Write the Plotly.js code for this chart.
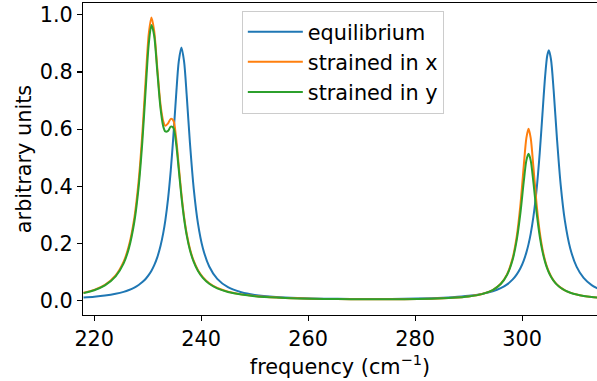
<!DOCTYPE html>
<html>
<head>
<meta charset="utf-8">
<script src="https://cdn.plot.ly/plotly-3.0.1.min.js"></script>
<style>
html,body{margin:0;padding:0;background:#fff;}
#chart{width:597px;height:381px;}
</style>
</head>
<body>
<div id="chart"></div>
<script>
const freq = [218,220,222,224,225.5,226.5,227.5,228.3,229,229.6,230.2,230.7,231.2,231.8,232.4,232.9,233.3,233.8,234.3,234.8,235.3,235.8,236.3,236.8,237.3,237.9,238.6,239.4,240.3,241.5,243,245,247.5,250,254,258,263,268,273,278,283,287,290,292.5,294.5,296,297.2,298.2,299,299.7,300.3,300.8,301.2,301.6,302.1,302.7,303.3,303.8,304.3,304.7,305,305.4,305.9,306.5,307.2,308,309,310.2,311.5,313,315];

const equilibrium = [0.0114,0.0143,0.0183,0.0245,0.0313,0.0377,0.0461,0.0551,0.0653,0.0763,0.0904,0.1051,0.1236,0.1526,0.1921,0.2364,0.2822,0.3563,0.4540,0.5770,0.7155,0.8360,0.8858,0.8361,0.7156,0.5507,0.3925,0.2700,0.1848,0.1199,0.0766,0.0475,0.0298,0.0206,0.0131,0.0095,0.0073,0.0064,0.0063,0.0071,0.0092,0.0126,0.0173,0.0241,0.0332,0.0442,0.0575,0.0738,0.0924,0.1147,0.1407,0.1692,0.1981,0.2341,0.2923,0.3881,0.5192,0.6525,0.7845,0.8575,0.8759,0.8438,0.7344,0.5707,0.4074,0.2793,0.1828,0.1185,0.0799,0.0547,0.0361];

const strainedX = [0.0278,0.0382,0.0557,0.0888,0.1368,0.1938,0.2901,0.4182,0.5863,0.7684,0.9342,0.9910,0.9448,0.8109,0.6849,0.628,0.612,0.620,0.636,0.630,0.5701,0.4716,0.3735,0.2935,0.2334,0.1811,0.1392,0.1069,0.0826,0.0614,0.0449,0.0319,0.0224,0.0167,0.0115,0.0086,0.0066,0.0055,0.0052,0.0056,0.0072,0.0102,0.0151,0.0236,0.0377,0.0594,0.0933,0.1474,0.2260,0.3391,0.4702,0.5698,0.6012,0.5698,0.4702,0.3391,0.2392,0.1813,0.1403,0.1161,0.1015,0.0859,0.0708,0.0573,0.0459,0.0366,0.0285,0.0218,0.0171,0.0133,0.0100];

const strainedY = [0.0268,0.0368,0.0536,0.0852,0.1309,0.1850,0.2763,0.3976,0.5575,0.7332,0.8993,0.9642,0.9277,0.7995,0.6720,0.610,0.592,0.594,0.609,0.605,0.5516,0.4594,0.3650,0.2869,0.2280,0.1768,0.1357,0.1041,0.0803,0.0597,0.0436,0.0310,0.0217,0.0162,0.0111,0.0083,0.0064,0.0054,0.0052,0.0056,0.0071,0.0102,0.0150,0.0234,0.0374,0.0585,0.0911,0.1418,0.2128,0.3098,0.4154,0.4910,0.5140,0.4910,0.4154,0.3098,0.2244,0.1728,0.1352,0.1125,0.0989,0.0840,0.0695,0.0565,0.0454,0.0362,0.0283,0.0217,0.0169,0.0132,0.0100];

const seriesNames = ['equilibrium', 'strained in x', 'strained in y'];
const seriesColors = ['#1f77b4', '#ff7f0e', '#2ca02c'];
const seriesData = [equilibrium, strainedX, strainedY];

const xTickVals = [220, 240, 260, 280, 300];
const yTickVals = [0.0, 0.2, 0.4, 0.6, 0.8, 1.0];

const FONT = 'DejaVu Sans, sans-serif';
const FS = 20.8;

const traces = seriesData.map((ys, i) => ({
  x: freq,
  y: ys,
  type: 'scatter',
  mode: 'lines',
  name: seriesNames[i],
  legendgroup: 'g' + i,
  line: {color: seriesColors[i], width: 2, shape: 'spline', smoothing: 0.8}
}));

const layout = {
  width: 597,
  height: 381,
  margin: {l: 83, r: 0, t: 3, b: 66},
  paper_bgcolor: '#ffffff',
  plot_bgcolor: '#ffffff',
  font: {family: FONT, size: FS, color: '#000000'},
  showlegend: true,
  legend: {
    x: 0.309, y: 0.975, xanchor: 'left', yanchor: 'top',
    bgcolor: 'rgba(255,255,255,0.8)',
    bordercolor: '#cccccc', borderwidth: 1,
    font: {family: FONT, size: FS, color: '#000000'},
    itemwidth: 55,
    traceorder: 'grouped',
    tracegroupgap: 0
  },
  xaxis: {
    range: [217.9, 314.0],
    tickvals: xTickVals,
    ticktext: xTickVals.map(String),
    ticks: 'outside', ticklen: 5, tickwidth: 1.1, tickcolor: '#000',
    showline: true, linecolor: '#000', linewidth: 1.1, mirror: true,
    showgrid: false, zeroline: false,
    tickfont: {family: FONT, size: FS, color: '#000'},
    title: {text: 'frequency (cm<sup>−1</sup>)', font: {family: FONT, size: FS, color: '#000'}, standoff: 0}
  },
  yaxis: {
    range: [-0.0497, 1.0413],
    tickvals: yTickVals,
    ticktext: yTickVals.map(v => v.toFixed(1)),
    ticks: 'outside', ticklen: 5, tickwidth: 1.1, tickcolor: '#000',
    showline: true, linecolor: '#000', linewidth: 1.1, mirror: false,
    showgrid: false, zeroline: false,
    tickfont: {family: FONT, size: FS, color: '#000'},
    title: {text: 'arbitrary units', font: {family: FONT, size: FS, color: '#000'}, standoff: 2}
  }
};

Plotly.newPlot('chart', traces, layout, {staticPlot: true, displayModeBar: false});
</script>
</body>
</html>
